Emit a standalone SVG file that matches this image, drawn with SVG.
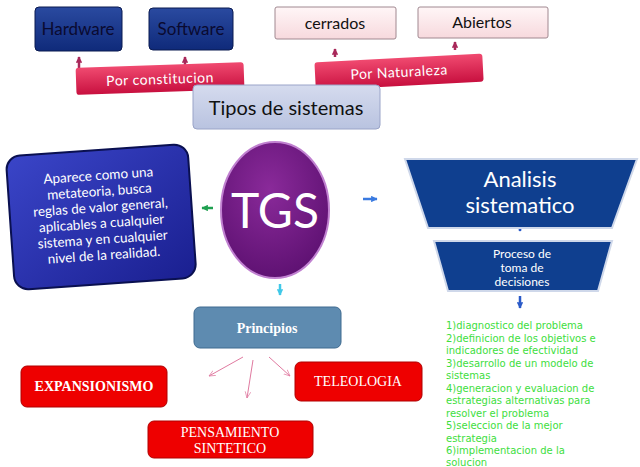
<svg xmlns="http://www.w3.org/2000/svg" width="640" height="467" viewBox="0 0 640 467">
<defs>
<linearGradient id="blu" x1="0" y1="0" x2="0" y2="1"><stop offset="0" stop-color="#2a4aa0"/><stop offset="1" stop-color="#0f2a7a"/></linearGradient>
<linearGradient id="pink" x1="0" y1="0" x2="0" y2="1"><stop offset="0" stop-color="#fff6f7"/><stop offset="1" stop-color="#f7d9dd"/></linearGradient>
<linearGradient id="crim" x1="0" y1="0" x2="0" y2="1"><stop offset="0" stop-color="#f04a70"/><stop offset="1" stop-color="#c8103f"/></linearGradient>
<linearGradient id="lav" x1="0" y1="0" x2="0" y2="1"><stop offset="0" stop-color="#d5dbee"/><stop offset="1" stop-color="#b9c3e0"/></linearGradient>
<radialGradient id="purp" cx="0.45" cy="0.35" r="0.7"><stop offset="0" stop-color="#8a2a9a"/><stop offset="1" stop-color="#5c1070"/></radialGradient>
<linearGradient id="meta" x1="0" y1="0" x2="1" y2="1"><stop offset="0" stop-color="#3a45c8"/><stop offset="1" stop-color="#1a1f90"/></linearGradient>
<marker id="ma" viewBox="0 0 10 10" refX="9" refY="5" markerWidth="2.6" markerHeight="2.6" orient="auto"><path d="M0,0 L10,5 L0,10 z" fill="context-stroke"/></marker>
<marker id="thin" viewBox="0 0 10 10" refX="9" refY="5" markerWidth="7" markerHeight="7" orient="auto"><path d="M0,1 L9,5 L0,9" fill="none" stroke="#e07aa0" stroke-width="1"/></marker>
</defs>
<style>
.s{font-family:"Lato","Liberation Sans",sans-serif}
.r{font-family:"Liberation Serif",serif}
.g{font-family:"DejaVu Sans",sans-serif;font-size:10px;fill:#3dde3d}
.w{fill:#fff}
</style>
<rect width="640" height="467" fill="#fff"/>
<g id="connectors" stroke-width="2.5">
<g stroke="#a8285a" marker-end="url(#ma)">
<line x1="79" y1="68" x2="79" y2="57"/><line x1="185" y1="65" x2="185" y2="57"/>
<line x1="200" y1="102" x2="200" y2="94"/><line x1="370" y1="99" x2="370" y2="91"/>
<line x1="335" y1="57" x2="335" y2="49"/><line x1="455" y1="50" x2="455" y2="42"/>
<line x1="284" y1="172" x2="284" y2="163"/>
</g>
<line x1="213" y1="208" x2="202" y2="208" stroke="#1fa050" marker-end="url(#ma)"/>
<line x1="363" y1="199" x2="377" y2="199" stroke="#3a7ae0" marker-end="url(#ma)"/>
<line x1="280" y1="284" x2="280" y2="295" stroke="#40c8e8" marker-end="url(#ma)"/>
<line x1="520" y1="220" x2="520" y2="231" stroke="#2a5ac8" marker-end="url(#ma)"/>
<line x1="520" y1="296" x2="520" y2="308" stroke="#2a5ac8" marker-end="url(#ma)"/>
<g stroke="#e07aa0" stroke-width="1" marker-end="url(#thin)" fill="none">
<line x1="243" y1="357" x2="209" y2="376"/><line x1="253" y1="360" x2="247" y2="398"/><line x1="269" y1="357" x2="290" y2="376"/>
</g>
</g>
<g id="hardware"><rect x="35" y="7" width="87" height="44" rx="4" fill="url(#blu)" stroke="#0a1a50"/><text x="78" y="35" class="s" font-size="17" text-anchor="middle" fill="#0a0a30">Hardware</text></g>
<g id="software"><rect x="149" y="8" width="84" height="42" rx="4" fill="url(#blu)" stroke="#0a1a50"/><text x="191" y="35" class="s" font-size="17" text-anchor="middle" fill="#0a0a30">Software</text></g>
<g id="cerrados"><rect x="275" y="7" width="121" height="32" rx="2" fill="url(#pink)" stroke="#a08890"/><text x="335" y="29" class="s" font-size="16" text-anchor="middle" fill="#111">cerrados</text></g>
<g id="abiertos"><rect x="418" y="7" width="130" height="31" rx="2" fill="url(#pink)" stroke="#a08890"/><text x="482" y="28" class="s" font-size="16" text-anchor="middle" fill="#111">Abiertos</text></g>
<g id="por-constitucion" transform="rotate(-2 160 78)"><rect x="76" y="65" width="168" height="27" rx="3" fill="url(#crim)"/><text x="160" y="84" class="s w" font-size="14" text-anchor="middle" letter-spacing="0.5">Por constitucion</text></g>
<g id="por-naturaleza" transform="rotate(-3 399 71)"><rect x="315" y="58" width="168" height="28" rx="3" fill="url(#crim)"/><text x="399" y="77" class="s w" font-size="14" text-anchor="middle" letter-spacing="0.5">Por Naturaleza</text></g>
<g id="tipos"><rect x="193" y="85" width="187" height="44" rx="4" fill="url(#lav)" stroke="#9aa4c8"/><text x="286" y="115" class="s" font-size="20" text-anchor="middle" fill="#111">Tipos de sistemas</text></g>
<g id="meta" transform="rotate(-4 100 215)"><rect x="10" y="150" width="182" height="134" rx="14" fill="url(#meta)" stroke="#0a1050" stroke-width="2"/>
<text class="s w" font-size="13.5" text-anchor="middle"><tspan x="101" y="180">Aparece como una</tspan><tspan x="101" y="196">metateoria,  busca</tspan><tspan x="101" y="212">reglas de valor general,</tspan><tspan x="101" y="228">aplicables a cualquier</tspan><tspan x="101" y="244">sistema y en cualquier</tspan><tspan x="101" y="260">nivel de la realidad.</tspan></text></g>
<g id="tgs"><ellipse cx="275" cy="210" rx="54" ry="68" fill="url(#purp)" stroke="#c080d0" stroke-width="2"/><text x="275" y="228" class="s w" font-size="48" text-anchor="middle">TGS</text></g>
<g id="analisis"><polygon points="405,159 637,159 612,228 428,228" fill="#0f3f8f" stroke="#cfd8ea" stroke-width="2"/><text class="s w" font-size="22" text-anchor="middle"><tspan x="520" y="187">Analisis</tspan><tspan x="520" y="213">sistematico</tspan></text></g>
<g id="proceso"><polygon points="434,241 612,241 598,291 448,291" fill="#0f3f8f" stroke="#cfd8ea" stroke-width="2"/><text class="s w" font-size="12" text-anchor="middle"><tspan x="522" y="258">Proceso de</tspan><tspan x="522" y="272">toma de</tspan><tspan x="522" y="286">decisiones</tspan></text></g>
<g id="principios"><rect x="194" y="307" width="147" height="41" rx="6" fill="#5e8bb0" stroke="#3e6a90"/><text x="267" y="333" class="r w" font-size="14" font-weight="bold" text-anchor="middle">Principios</text></g>
<g id="expansionismo"><rect x="21" y="366" width="146" height="41" rx="6" fill="#ee0000" stroke="#b00000"/><text x="94" y="391" class="r w" font-size="14" font-weight="bold" text-anchor="middle">EXPANSIONISMO</text></g>
<g id="teleologia"><rect x="295" y="362" width="127" height="39" rx="6" fill="#ee0000" stroke="#b00000"/><text x="358" y="386" class="r w" font-size="14" text-anchor="middle">TELEOLOGIA</text></g>
<g id="pensamiento"><rect x="148" y="421" width="165" height="37" rx="6" fill="#ee0000" stroke="#b00000"/><text class="r w" font-size="14" text-anchor="middle"><tspan x="230" y="437">PENSAMIENTO</tspan><tspan x="230" y="453">SINTETICO</tspan></text></g>
<g id="pasos"><text class="g"><tspan x="446" y="329">1)diagnostico del problema</tspan><tspan x="446" y="341.5">2)definicion de los objetivos e</tspan><tspan x="446" y="354">indicadores de efectividad</tspan><tspan x="446" y="366.5">3)desarrollo de un modelo de</tspan><tspan x="446" y="379">sistemas</tspan><tspan x="446" y="391.5">4)generacion y evaluacion de</tspan><tspan x="446" y="404">estrategias alternativas para</tspan><tspan x="446" y="416.5">resolver el problema</tspan><tspan x="446" y="429">5)seleccion de la mejor</tspan><tspan x="446" y="441.5">estrategia</tspan><tspan x="446" y="454">6)implementacion de la</tspan><tspan x="446" y="466">solucion</tspan></text></g>
</svg>
